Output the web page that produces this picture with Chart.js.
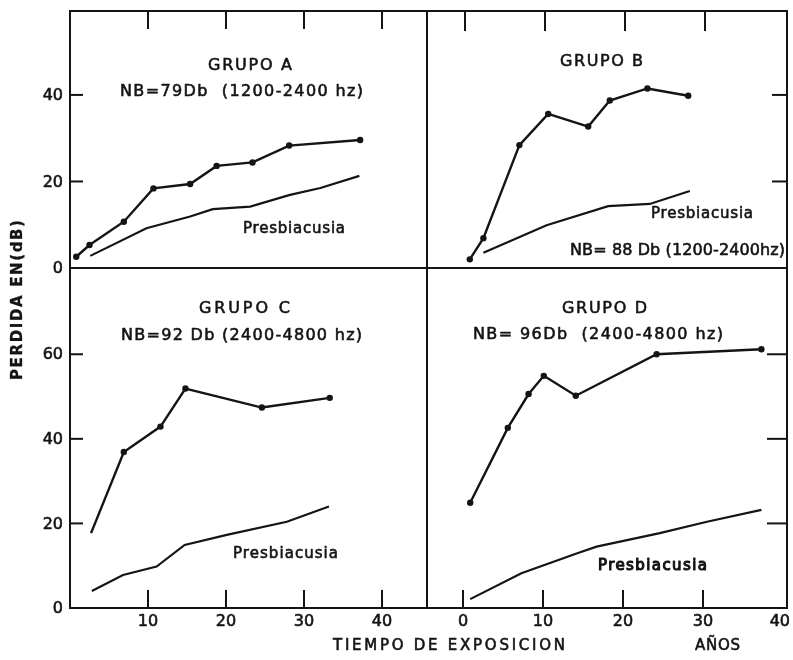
<!DOCTYPE html>
<html>
<head>
<meta charset="utf-8">
<script src="https://cdn.jsdelivr.net/npm/chart.js@4.4.1/dist/chart.umd.min.js"></script>
<style>
  html, body { margin: 0; padding: 0; background: #fff; }
  #wrap { position: relative; width: 793px; height: 660px; overflow: hidden; background: #fff; }
  #wrap canvas { position: absolute; left: 0; top: 0; }
</style>
</head>
<body>
<div id="wrap">
  <canvas id="panelA" width="793" height="660"></canvas>
  <canvas id="panelB" width="793" height="660"></canvas>
  <canvas id="panelC" width="793" height="660"></canvas>
  <canvas id="panelD" width="793" height="660"></canvas>
</div>
<script>
// Hearing loss (dB) against years of exposure, four noise groups.

// Grupo A: NB = 79 Db (1200-2400 hz)
const grupoA_x = [0.8, 2.5, 6.9, 10.7, 15.4, 18.8, 23.4, 28.1, 37.2];
const grupoA_y = [2.6, 5.3, 10.7, 18.4, 19.4, 23.6, 24.4, 28.3, 29.6];
const presbA_x = [2.6, 9.8, 15.4, 18.3, 23.1, 28.2, 32.1, 37.1];
const presbA_y = [2.8, 9.2, 11.9, 13.6, 14.2, 16.9, 18.5, 21.3];

// Grupo B: NB = 88 Db (1200-2400 hz)
const grupoB_x = [0.6, 2.3, 6.8, 10.4, 15.4, 18.1, 22.8, 27.9];
const grupoB_y = [2.0, 6.9, 28.4, 35.6, 32.7, 38.7, 41.5, 39.8];
const presbB_x = [2.3, 10.2, 17.9, 23.1, 28.1];
const presbB_y = [3.5, 9.9, 14.3, 14.8, 17.8];

// Grupo C: NB = 92 Db (2400-4800 hz)
const grupoC_x = [2.7, 6.9, 11.6, 14.8, 24.6, 33.3];
const grupoC_y = [17.7, 36.9, 42.9, 51.9, 47.4, 49.7];
const presbC_x = [2.8, 6.8, 11.1, 14.7, 20.1, 27.8, 33.2];
const presbC_y = [4.0, 7.8, 9.8, 14.9, 17.3, 20.4, 24.0];

// Grupo D: NB = 96 Db (2400-4800 hz)
const grupoD_x = [0.9, 5.6, 8.2, 10.1, 14.1, 24.2, 37.3];
const grupoD_y = [24.9, 42.6, 50.6, 54.9, 50.2, 60.0, 61.2];
const presbD_x = [0.9, 7.3, 14.2, 16.7, 24.6, 30.5, 37.3];
const presbD_y = [2.1, 8.2, 12.9, 14.5, 17.7, 20.4, 23.2];

// Axis ticks
const xTickMarksLeft = [10, 20, 30, 40];
const xTickMarksRight = [0, 10, 20, 30];
const xLabelsLeft = [10, 20, 30, 40];
const xLabelsRight = [0, 10, 20, 30, 40];
const yTickMarksTop = [20, 40];
const yTickMarksBottom = [20, 40, 60];
const yLabelsTop = [0, 20, 40];
const yLabelsBottom = [0, 20, 40, 60];

const W = 793, H = 660;
const INK = '#141414';
const FONT = '"DejaVu Sans", "Liberation Sans", sans-serif';

function pts(xs, ys) { return xs.map((x, i) => ({ x: x, y: ys[i] })); }

// Fill text with a thin outline so the lettering reads a little heavier.
function heavyText(ctx, s, x, y, weight) {
  ctx.fillText(s, x, y);
  if (weight > 0) {
    ctx.lineWidth = weight;
    ctx.strokeStyle = INK;
    ctx.lineJoin = 'round';
    ctx.strokeText(s, x, y);
  }
}

// Draw text spread to a given width by letter spacing; optional rotation.
function fitText(ctx, t) {
  ctx.save();
  ctx.font = t.font;
  ctx.fillStyle = INK;
  if ('letterSpacing' in ctx) ctx.letterSpacing = '0px';
  const n = [...t.text].length;
  const natural = ctx.measureText(t.text).width;
  let sp = 0;
  if ('letterSpacing' in ctx && n > 1) {
    sp = (t.width - natural) / (n - 1);
    ctx.letterSpacing = sp.toFixed(2) + 'px';
  }
  const drawn = natural + sp * (n - 1);
  ctx.textBaseline = 'middle';
  ctx.textAlign = 'left';
  ctx.translate(t.cx, t.cy);
  if (t.rotate) ctx.rotate(t.rotate);
  heavyText(ctx, t.text, -drawn / 2, 0, t.weight !== undefined ? t.weight : 0.6);
  ctx.restore();
}

function seg(ctx, x1, y1, x2, y2) {
  ctx.beginPath(); ctx.moveTo(x1, y1); ctx.lineTo(x2, y2); ctx.stroke();
}

// Frame, inward tick marks, tick labels and captions of one panel.
const panelDecor = {
  id: 'panelDecor',
  afterDatasetsDraw(chart, args, o) {
    const ctx = chart.ctx, a = chart.chartArea;
    const xs = chart.scales.x, ys = chart.scales.y;
    ctx.save();
    ctx.strokeStyle = INK;
    ctx.lineCap = 'butt';
    ctx.lineWidth = 2;
    ctx.strokeRect(a.left, a.top, a.right - a.left, a.bottom - a.top);

    const xEdge = o.xSide === 'top' ? a.top : a.bottom;
    const xDir = o.xSide === 'top' ? 1 : -1;
    o.xMarks.forEach(v => {
      const px = xs.getPixelForValue(v);
      seg(ctx, px, xEdge, px, xEdge + xDir * o.xLen);
    });
    const yEdge = o.ySide === 'left' ? a.left : a.right;
    const yDir = o.ySide === 'left' ? 1 : -1;
    o.yMarks.forEach(v => {
      const py = ys.getPixelForValue(v);
      seg(ctx, yEdge, py, yEdge + yDir * o.yLen, py);
    });

    ctx.fillStyle = INK;
    ctx.font = '16px ' + FONT;
    ctx.textBaseline = 'middle';
    if (o.yLabels) {
      ctx.textAlign = 'right';
      o.yLabels.forEach(v => {
        heavyText(ctx, String(v), a.left - 7, ys.getPixelForValue(v) + 1, 0.6);
      });
    }
    if (o.xLabels) {
      ctx.textAlign = 'center';
      o.xLabels.forEach(v => {
        const s = String(v);
        let px = xs.getPixelForValue(v);
        const w = ctx.measureText(s).width;
        if (px + w / 2 > W - 3) px = W - 3 - w / 2;
        heavyText(ctx, s, px, a.bottom + 14, 0.6);
      });
    }
    ctx.restore();
    (o.texts || []).forEach(t => fitText(ctx, t));
  }
};

function makePanel(id, box, xr, yr, series, deco) {
  const datasets = series.map(s => ({
    data: s.data,
    borderColor: INK,
    borderWidth: s.marks ? 2.4 : 2.2,
    pointRadius: s.radius !== undefined ? s.radius : (s.marks ? 3.2 : 0),
    pointBackgroundColor: INK,
    pointBorderWidth: 0,
    tension: 0,
    fill: false
  }));
  return new Chart(document.getElementById(id), {
    type: 'line',
    data: { datasets: datasets },
    options: {
      responsive: false,
      animation: false,
      devicePixelRatio: 1,
      events: [],
      layout: { padding: { left: box.l, top: box.t, right: W - box.r, bottom: H - box.b } },
      plugins: { legend: { display: false }, tooltip: { enabled: false }, title: { display: false }, panelDecor: deco },
      scales: {
        x: { type: 'linear', min: xr[0], max: xr[1], display: false },
        y: { type: 'linear', min: yr[0], max: yr[1], display: false }
      }
    },
    plugins: [panelDecor]
  });
}

const TXT = '16px ' + FONT;
const TXT_P = '15px ' + FONT;

makePanel('panelA', { l: 70, t: 11, r: 427, b: 268 }, [0, 45.77], [0, 59.4], [
  { data: pts(grupoA_x, grupoA_y), marks: true },
  { data: pts(presbA_x, presbA_y), marks: false }
], {
  xSide: 'top', xMarks: xTickMarksLeft, xLen: 18,
  ySide: 'left', yMarks: yTickMarksTop, yLen: 13,
  yLabels: yLabelsTop,
  texts: [
    { text: 'GRUPO A', cx: 250, cy: 66, width: 84, font: TXT },
    { text: 'NB=79Db  (1200-2400 hz)', cx: 241.5, cy: 92, width: 243, font: TXT },
    { text: 'Presbiacusia', cx: 294, cy: 229, width: 102, font: TXT_P }
  ]
});

makePanel('panelB', { l: 427, t: 11, r: 787, b: 268 }, [-4.75, 40.25], [0, 59.4], [
  { data: pts(grupoB_x, grupoB_y), marks: true },
  { data: pts(presbB_x, presbB_y), marks: false }
], {
  xSide: 'top', xMarks: xTickMarksRight, xLen: 20,
  ySide: 'right', yMarks: yTickMarksTop, yLen: 15,
  texts: [
    { text: 'GRUPO B', cx: 601.5, cy: 62, width: 83, font: TXT },
    { text: 'Presbiacusia', cx: 702, cy: 214, width: 102, font: TXT_P },
    { text: 'NB= 88 Db (1200-2400hz)', cx: 677.5, cy: 251, width: 215, font: TXT }
  ]
});

makePanel('panelC', { l: 70, t: 268, r: 427, b: 608 }, [0, 45.77], [0, 80.4], [
  { data: pts(grupoC_x, grupoC_y), marks: true, radius: [0, 3.2, 3.2, 3.2, 3.2, 3.2] },
  { data: pts(presbC_x, presbC_y), marks: false }
], {
  xSide: 'bottom', xMarks: xTickMarksLeft, xLen: 18,
  ySide: 'left', yMarks: yTickMarksBottom, yLen: 13,
  yLabels: yLabelsBottom, xLabels: xLabelsLeft,
  texts: [
    { text: 'GRUPO C', cx: 244.5, cy: 309, width: 91, font: TXT },
    { text: 'NB=92 Db (2400-4800 hz)', cx: 241.5, cy: 336, width: 241, font: TXT },
    { text: 'Presbiacusia', cx: 285.5, cy: 554, width: 105, font: TXT_P },
    { text: 'TIEMPO DE EXPOSICION', cx: 449, cy: 646, width: 232, font: '15px ' + FONT },
    { text: 'PERDIDA EN(dB)', cx: 18, cy: 300, width: 160, font: 'bold 15px ' + FONT, rotate: -Math.PI / 2, weight: 0.3 }
  ]
});

makePanel('panelD', { l: 427, t: 268, r: 787, b: 608 }, [-4.5, 40.5], [0, 80.4], [
  { data: pts(grupoD_x, grupoD_y), marks: true },
  { data: pts(presbD_x, presbD_y), marks: false }
], {
  xSide: 'bottom', xMarks: xTickMarksRight, xLen: 18,
  ySide: 'right', yMarks: yTickMarksBottom, yLen: 20,
  xLabels: xLabelsRight,
  texts: [
    { text: 'GRUPO D', cx: 604.5, cy: 309, width: 85, font: TXT },
    { text: 'NB= 96Db  (2400-4800 hz)', cx: 598, cy: 335, width: 250, font: TXT },
    { text: 'Presbiacusia', cx: 652.5, cy: 566, width: 109, font: TXT_P, weight: 1.1 },
    { text: 'AÑOS', cx: 717.5, cy: 646, width: 45, font: '15px ' + FONT }
  ]
});
</script>
</body>
</html>
